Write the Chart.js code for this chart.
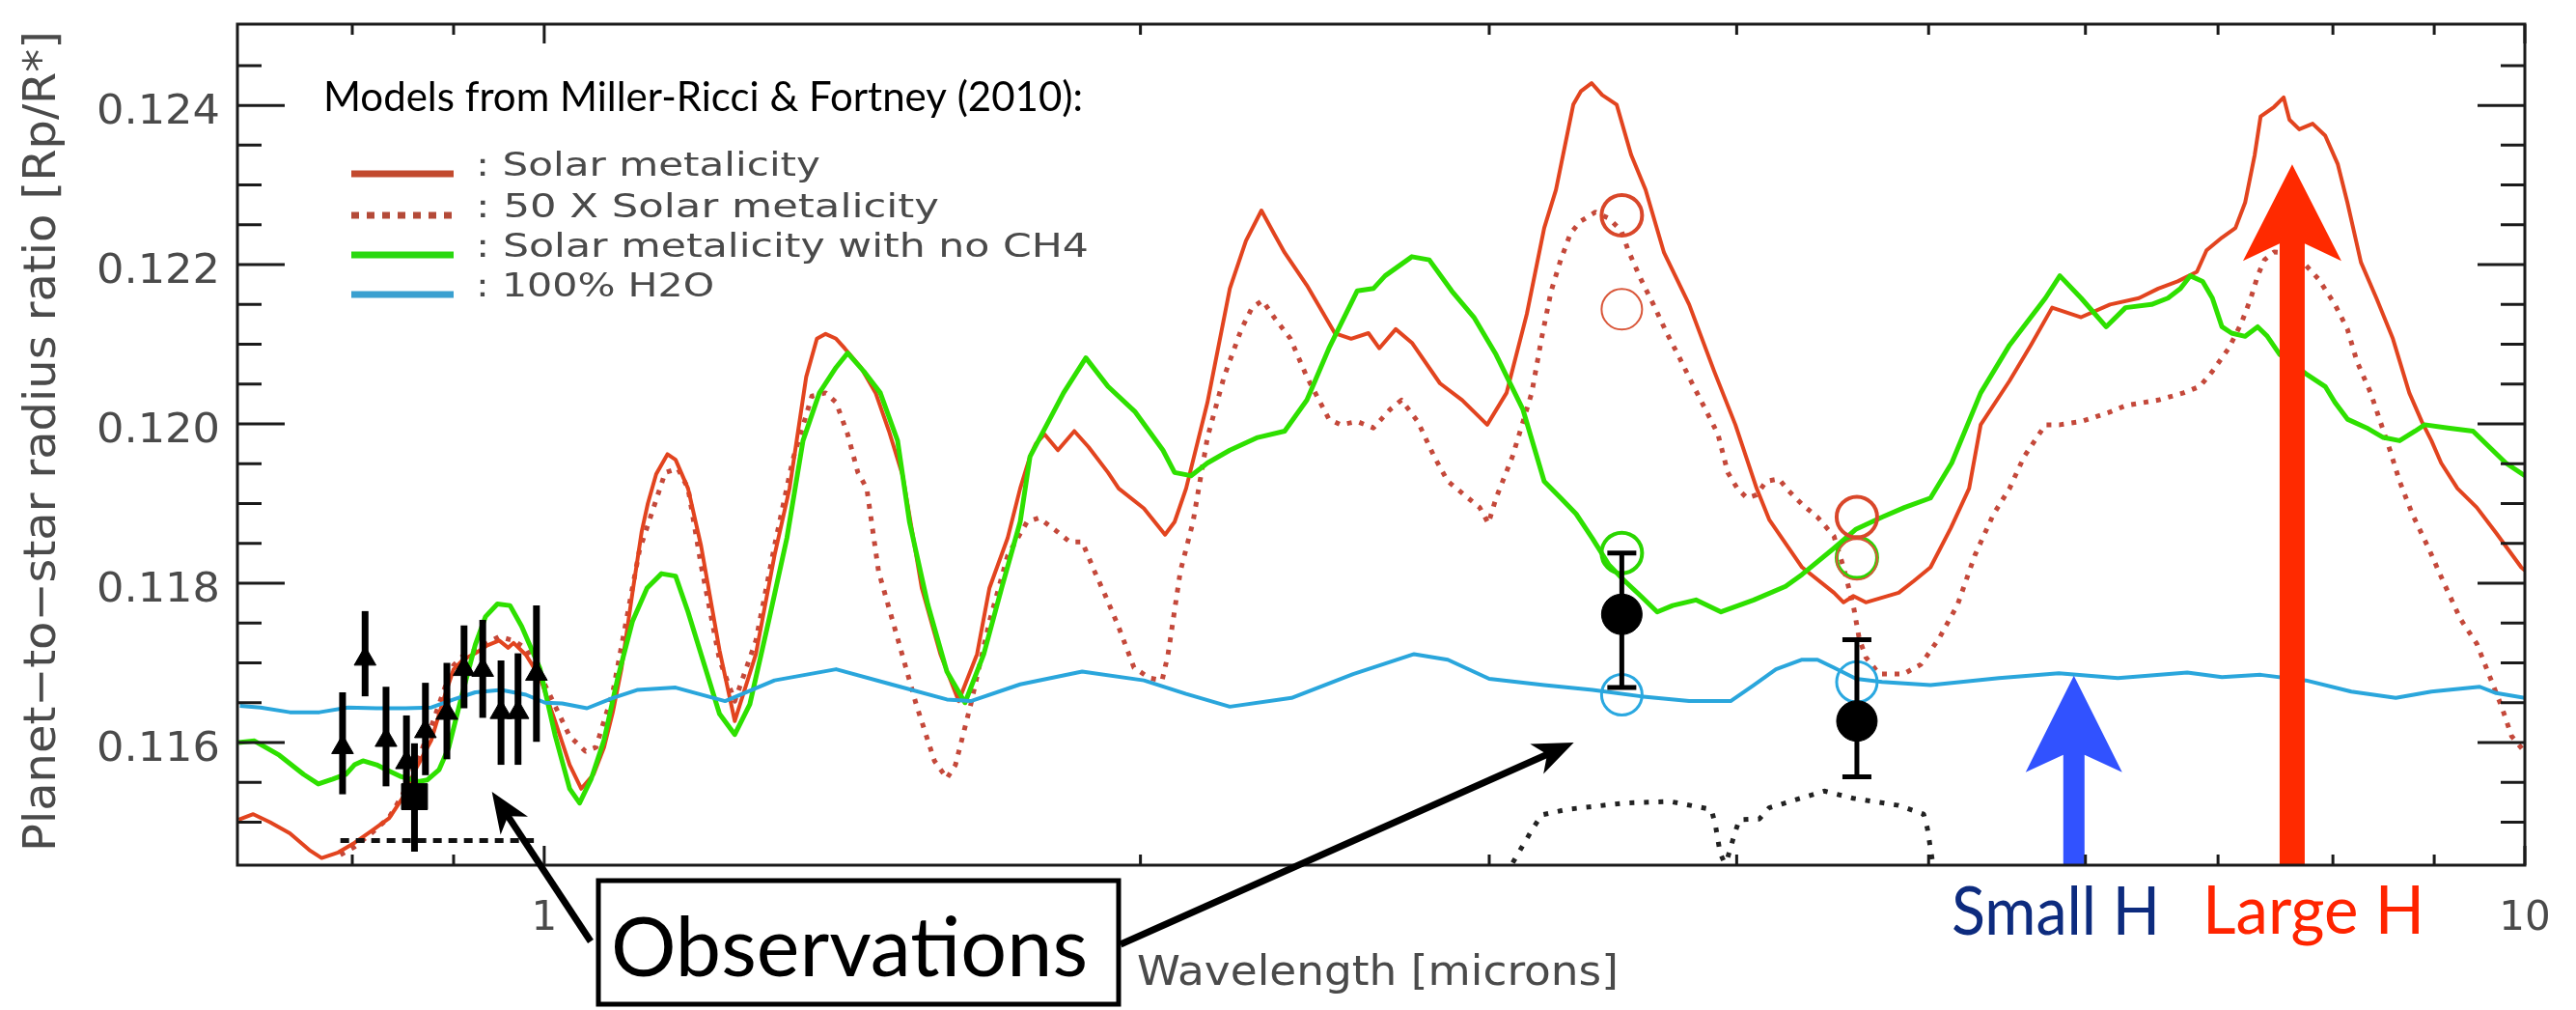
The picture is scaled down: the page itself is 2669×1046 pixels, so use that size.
<!DOCTYPE html>
<html>
<head>
<meta charset="utf-8">
<title>Transmission spectrum</title>
<script src="https://cdn.jsdelivr.net/npm/chart.js@4.4.1/dist/chart.umd.min.js"></script>
<style>
  html, body { margin: 0; padding: 0; background: #fff; }
  #wrap { width: 2669px; height: 1046px; }
</style>
</head>
<body>
<div id="wrap"><canvas id="spectrum" width="2669" height="1046"></canvas></div>
<script>
// Models (Miller-Ricci & Fortney 2010), wavelength in microns, Rp/R*
const solarWl = [0.701,0.713,0.727,0.744,0.761,0.772,0.787,0.802,0.818,0.835,0.848,0.861,0.877,0.890,0.900,0.910,0.923,0.936,0.949,0.959,0.965,0.979,0.995,1.013,1.030,1.044,1.059,1.072,1.083,1.094,1.108,1.120,1.128,1.139,1.154,1.165,1.182,1.200,1.226,1.248,1.279,1.307,1.330,1.356,1.373,1.387,1.404,1.418,1.445,1.470,1.493,1.517,1.551,1.585,1.619,1.654,1.678,1.714,1.739,1.759,1.771,1.789,1.817,1.852,1.883,1.926,1.950,2.008,2.058,2.081,2.109,2.162,2.219,2.261,2.302,2.336,2.365,2.427,2.507,2.555,2.607,2.640,2.691,2.742,2.833,2.907,2.993,3.061,3.134,3.198,3.242,3.308,3.338,3.379,3.421,3.479,3.538,3.598,3.676,3.785,3.897,3.994,4.094,4.154,4.316,4.479,4.529,4.581,4.648,4.829,4.916,5.011,5.130,5.241,5.312,5.493,5.631,5.772,5.970,6.174,6.385,6.530,6.679,6.830,6.907,7.032,7.143,7.224,7.305,7.355,7.471,7.555,7.606,7.693,7.814,7.929,8.046,8.136,8.265,8.415,8.578,8.743,8.871,8.971,9.073,9.247,9.457,9.672,9.958,10.0];
const solarRatio = [0.11503,0.11510,0.11500,0.11486,0.11465,0.11455,0.11462,0.11474,0.11489,0.11505,0.11530,0.11566,0.11603,0.11656,0.11692,0.11704,0.11712,0.11722,0.11728,0.11719,0.11725,0.11710,0.11682,0.11626,0.11572,0.11542,0.11560,0.11594,0.11638,0.11693,0.11788,0.11865,0.11900,0.11937,0.11962,0.11955,0.11919,0.11847,0.11716,0.11627,0.11711,0.11835,0.11919,0.12059,0.12107,0.12113,0.12107,0.12095,0.12071,0.12039,0.11991,0.11935,0.11794,0.11711,0.11652,0.11711,0.11794,0.11857,0.11919,0.11959,0.11975,0.11987,0.11967,0.11991,0.11971,0.11939,0.11919,0.11894,0.11861,0.11877,0.11919,0.12027,0.12170,0.12230,0.12268,0.12239,0.12215,0.12174,0.12114,0.12107,0.12114,0.12095,0.12119,0.12102,0.12051,0.12030,0.11999,0.12039,0.12138,0.12246,0.12294,0.12401,0.12418,0.12428,0.12413,0.12401,0.12338,0.12294,0.12215,0.12150,0.12066,0.11999,0.11919,0.11880,0.11820,0.11788,0.11776,0.11784,0.11776,0.11788,0.11803,0.11820,0.11869,0.11919,0.11999,0.12054,0.12099,0.12146,0.12134,0.12150,0.12158,0.12170,0.12179,0.12191,0.12218,0.12234,0.12246,0.12278,0.12338,0.12386,0.12398,0.12410,0.12382,0.12370,0.12377,0.12362,0.12326,0.12278,0.12203,0.12158,0.12107,0.12039,0.12003,0.11979,0.11951,0.11919,0.11895,0.11863,0.11820,0.11816];

const metal50Wl = [0.789,0.802,0.818,0.835,0.848,0.861,0.877,0.890,0.900,0.910,0.923,0.936,0.949,0.965,0.979,0.995,1.005,1.030,1.049,1.062,1.083,1.117,1.151,1.168,1.182,1.200,1.226,1.248,1.279,1.307,1.335,1.365,1.387,1.404,1.423,1.440,1.455,1.475,1.508,1.541,1.574,1.597,1.613,1.642,1.678,1.714,1.753,1.777,1.815,1.842,1.869,1.896,1.922,1.950,1.985,2.021,2.051,2.065,2.095,2.126,2.162,2.204,2.249,2.277,2.305,2.336,2.381,2.427,2.490,2.524,2.573,2.622,2.673,2.709,2.761,2.814,2.859,2.967,2.997,3.024,3.082,3.117,3.152,3.188,3.224,3.260,3.297,3.334,3.394,3.448,3.499,3.526,3.578,3.631,3.688,3.743,3.798,3.858,3.914,3.959,4.003,4.048,4.094,4.140,4.201,4.249,4.316,4.394,4.479,4.529,4.581,4.612,4.648,4.721,4.856,4.955,5.062,5.171,5.276,5.390,5.493,5.587,5.727,5.824,5.970,6.174,6.286,6.530,6.724,6.853,6.954,7.087,7.191,7.272,7.330,7.388,7.471,7.581,7.727,7.867,8.019,8.136,8.228,8.359,8.453,8.549,8.645,8.773,8.941,9.103,9.279,9.457,9.596,9.737,9.847,10.0];
const metal50Ratio = [0.11459,0.11469,0.11486,0.11506,0.11534,0.11572,0.11620,0.11666,0.11697,0.11709,0.11716,0.11725,0.11733,0.11728,0.11718,0.11686,0.11663,0.11608,0.11589,0.11594,0.11663,0.11841,0.11939,0.11944,0.11919,0.11823,0.11704,0.11652,0.11728,0.11847,0.11955,0.12035,0.12039,0.12027,0.11987,0.11939,0.11919,0.11815,0.11731,0.11648,0.11577,0.11555,0.11572,0.11648,0.11752,0.11835,0.11877,0.11882,0.11865,0.11852,0.11852,0.11815,0.11782,0.11745,0.11694,0.11681,0.11678,0.11710,0.11815,0.11877,0.11983,0.12059,0.12119,0.12146,0.12155,0.12134,0.12107,0.12059,0.12006,0.11999,0.12003,0.11995,0.12018,0.12030,0.12003,0.11959,0.11928,0.11895,0.11875,0.11907,0.11959,0.11999,0.12039,0.12107,0.12167,0.12206,0.12239,0.12254,0.12266,0.12258,0.12242,0.12218,0.12182,0.12150,0.12114,0.12083,0.12051,0.12018,0.11987,0.11939,0.11919,0.11907,0.11911,0.11928,0.11931,0.11916,0.11899,0.11883,0.11859,0.11820,0.11772,0.11731,0.11707,0.11686,0.11686,0.11698,0.11731,0.11773,0.11835,0.11886,0.11919,0.11959,0.11999,0.11999,0.12003,0.12015,0.12023,0.12030,0.12039,0.12047,0.12066,0.12095,0.12126,0.12158,0.12186,0.12206,0.12216,0.12215,0.12203,0.12182,0.12150,0.12119,0.12078,0.12039,0.12003,0.11967,0.11928,0.11887,0.11844,0.11800,0.11755,0.11724,0.11684,0.11644,0.11608,0.11588];

const noCh4Wl = [0.701,0.714,0.735,0.756,0.769,0.782,0.794,0.802,0.810,0.823,0.832,0.847,0.864,0.873,0.885,0.895,0.908,0.923,0.934,0.947,0.961,0.974,0.995,1.013,1.030,1.042,1.056,1.072,1.089,1.108,1.127,1.146,1.165,1.182,1.200,1.226,1.248,1.270,1.298,1.326,1.351,1.377,1.404,1.423,1.450,1.478,1.508,1.529,1.562,1.597,1.631,1.667,1.702,1.739,1.759,1.829,1.877,1.926,1.988,2.053,2.081,2.121,2.162,2.219,2.292,2.365,2.427,2.490,2.573,2.622,2.658,2.742,2.798,2.872,2.947,3.024,3.120,3.198,3.260,3.319,3.383,3.448,3.511,3.578,3.647,3.713,3.815,3.928,4.080,4.234,4.316,4.479,4.596,4.737,4.861,5.011,5.136,5.312,5.493,5.631,5.727,5.824,5.970,6.146,6.286,6.479,6.604,6.701,6.777,6.876,6.954,7.032,7.111,7.224,7.330,7.413,7.522,7.753,7.929,8.019,8.136,8.321,8.482,8.645,8.802,8.901,9.144,9.415,9.596,9.781,10.0];
const noCh4Ratio = [0.11600,0.11602,0.11584,0.11560,0.11548,0.11554,0.11560,0.11572,0.11577,0.11572,0.11566,0.11557,0.11551,0.11553,0.11566,0.11594,0.11656,0.11723,0.11758,0.11774,0.11772,0.11746,0.11693,0.11608,0.11542,0.11524,0.11554,0.11603,0.11680,0.11752,0.11794,0.11812,0.11809,0.11764,0.11711,0.11636,0.11610,0.11648,0.11752,0.11857,0.11979,0.12039,0.12071,0.12089,0.12066,0.12039,0.11979,0.11877,0.11773,0.11689,0.11650,0.11711,0.11794,0.11877,0.11959,0.12039,0.12083,0.12047,0.12015,0.11967,0.11939,0.11935,0.11951,0.11967,0.11983,0.11991,0.12030,0.12095,0.12167,0.12170,0.12186,0.12210,0.12206,0.12167,0.12134,0.12087,0.12018,0.11928,0.11907,0.11887,0.11856,0.11823,0.11803,0.11784,0.11764,0.11772,0.11779,0.11764,0.11779,0.11796,0.11811,0.11844,0.11868,0.11883,0.11895,0.11907,0.11951,0.12039,0.12099,0.12134,0.12158,0.12186,0.12158,0.12122,0.12146,0.12150,0.12158,0.12170,0.12186,0.12179,0.12158,0.12122,0.12114,0.12110,0.12122,0.12110,0.12087,0.12063,0.12047,0.12027,0.12006,0.11995,0.11983,0.11979,0.11991,0.11999,0.11995,0.11991,0.11971,0.11951,0.11935];

const waterWl = [0.702,0.719,0.744,0.770,0.796,0.823,0.851,0.877,0.900,0.923,0.951,0.979,1.001,1.021,1.051,1.083,1.114,1.165,1.234,1.307,1.404,1.497,1.597,1.642,1.739,1.869,2.008,2.109,2.219,2.384,2.561,2.749,2.859,3.000,3.198,3.383,3.578,3.785,3.972,4.080,4.187,4.316,4.394,4.479,4.596,4.737,5.011,5.426,5.817,6.230,6.754,7.032,7.355,7.753,8.173,8.607,8.971,9.489,9.672,10.0];
const waterRatio = [0.11646,0.11644,0.11638,0.11638,0.11644,0.11643,0.11643,0.11644,0.11654,0.11663,0.11666,0.11660,0.11650,0.11649,0.11643,0.11656,0.11666,0.11669,0.11652,0.11678,0.11692,0.11673,0.11654,0.11652,0.11673,0.11689,0.11678,0.11661,0.11645,0.11656,0.11686,0.11711,0.11704,0.11680,0.11672,0.11666,0.11658,0.11652,0.11652,0.11672,0.11692,0.11704,0.11704,0.11694,0.11680,0.11676,0.11672,0.11681,0.11687,0.11681,0.11688,0.11682,0.11685,0.11678,0.11664,0.11656,0.11664,0.11670,0.11662,0.11656];

// Ground-based observations (triangles) with errors
const obsWl    = [0.791,0.812,0.832,0.852,0.871,0.893,0.911,0.931,0.951,0.970,0.991];
const obsRatio = [0.11594,0.11705,0.11603,0.11575,0.11614,0.11637,0.11692,0.11691,0.11638,0.11638,0.11686];
const obsLow   = [0.11535,0.11658,0.11545,0.11536,0.11559,0.11579,0.11643,0.11631,0.11572,0.11572,0.11601];
const obsHigh  = [0.11663,0.11765,0.11670,0.11634,0.11675,0.11700,0.11747,0.11754,0.11703,0.11712,0.11772];

// Broad-band point (square) and its filter width
const sqWl = [0.860];
const sqRatio = [0.11532];
const sqLow = [0.11463];
const sqHigh = [0.11599];
const filterWl = [0.789, 0.988];
const filterRatio = [0.11477, 0.11477];

// Spitzer points and band-integrated model values
const irWl = [3.5, 4.6];
const irRatio = [0.11761, 0.11627];
const irLow = [0.11669, 0.11557];
const irHigh = [0.11838, 0.11729];
const bandSolar = [0.12262, 0.11883];
const band50 = [0.12144, 0.11830];
const bandNoCh4 = [0.11838, 0.11832];
const bandWater = [0.11660, 0.11676];

// Spitzer response curves (arbitrary scale, drawn at the bottom)
const resp36Wl = [3.083,3.156,3.188,3.283,3.511,3.701,3.884,3.902,3.924,3.959];
const resp36Ratio = [0.11449,0.11492,0.11509,0.11516,0.11524,0.11526,0.11516,0.11497,0.11461,0.11440];
const resp45Wl = [3.959,3.990,4.012,4.107,4.154,4.429,4.580,4.828,4.971,4.993,5.030];
const resp45Ratio = [0.11456,0.11485,0.11503,0.11504,0.11518,0.11539,0.11530,0.11521,0.11510,0.11492,0.11440];

// Axis ticks
const yMajorTicks = [0.116, 0.118, 0.120, 0.122, 0.124];
const yTickLabels = ['0.116', '0.118', '0.120', '0.122', '0.124'];
const yMinorTicks = [0.1150,0.1155,0.1165,0.1170,0.1175,0.1185,0.1190,0.1195,0.1205,0.1210,0.1215,0.1225,0.1230,0.1235,0.1245];
const xMajorTicks = [1, 10];
const xTickLabels = ['1', '10'];
const xMinorTicks = [0.8, 0.9, 2, 3, 4, 5, 6, 7, 8, 9];

const legendTitle = 'Models from Miller-Ricci & Fortney (2010):';
const legendLabels = [': Solar metalicity', ': 50 X Solar metalicity', ': Solar metalicity with no CH4', ': 100% H2O'];

// Annotation arrows (data coordinates of the tips)
const smallHArrow = { x: 5.92, tip: 0.11684 };
const largeHArrow = { x: 7.63, tip: 0.12326 };
const obsArrowTips = [{ x: 0.941, y: 0.11538 }, { x: 3.31, y: 0.11600 }];

const RED = '#e2441f', RED_DOT = '#c4483a', GREEN = '#2ee000', BLUE = '#2aa6dc';
const TEXT_GREY = '#4a4a4a';

function pts(wl, vals) {
    return wl.map((w, i) => ({ x: w, y: vals[i] }));
}

function curve(wl, vals, color, width, dash, order) {
    return {
        data: pts(wl, vals),
        showLine: true,
        borderColor: color,
        borderWidth: width,
        borderDash: dash,
        borderCapStyle: 'butt',
        borderJoinStyle: 'round',
        pointRadius: 0,
        tension: 0,
        fill: false,
        clip: 0,
        order: order
    };
}

function markers(wl, vals, style, radius, fill, stroke, width, order) {
    return {
        data: pts(wl, vals),
        showLine: false,
        pointStyle: style,
        pointRadius: radius,
        backgroundColor: fill,
        borderColor: stroke,
        borderWidth: width,
        order: order
    };
}

function fitText(ctx, str, x, y, w, font, color) {
    ctx.save();
    ctx.font = font;
    ctx.fillStyle = color;
    ctx.textAlign = 'left';
    ctx.textBaseline = 'alphabetic';
    const k = w / ctx.measureText(str).width;
    ctx.translate(x, y);
    ctx.scale(k, 1);
    ctx.fillText(str, 0, 0);
    ctx.restore();
}

function lineArrow(ctx, x0, y0, x1, y1, len, half) {
    const d = Math.hypot(x1 - x0, y1 - y0);
    const ux = (x1 - x0) / d, uy = (y1 - y0) / d, nx = -uy, ny = ux;
    ctx.beginPath();
    ctx.moveTo(x0, y0);
    ctx.lineTo(x1 - ux * len * 0.7, y1 - uy * len * 0.7);
    ctx.stroke();
    ctx.beginPath();
    ctx.moveTo(x1, y1);
    ctx.lineTo(x1 - ux * len + nx * half, y1 - uy * len + ny * half);
    ctx.lineTo(x1 - ux * len * 0.72, y1 - uy * len * 0.72);
    ctx.lineTo(x1 - ux * len - nx * half, y1 - uy * len - ny * half);
    ctx.closePath();
    ctx.fill();
}

function bigArrow(ctx, cx, tipY, baseY, shaft, head, color) {
    ctx.fillStyle = color;
    ctx.beginPath();
    ctx.moveTo(cx, tipY);
    ctx.lineTo(cx + head, tipY + 100);
    ctx.lineTo(cx + shaft, tipY + 82);
    ctx.lineTo(cx + shaft, baseY);
    ctx.lineTo(cx - shaft, baseY);
    ctx.lineTo(cx - shaft, tipY + 82);
    ctx.lineTo(cx - head, tipY + 100);
    ctx.closePath();
    ctx.fill();
}

const decor = {
    id: 'decor',
    afterDatasetsDraw(chart) {
        const { ctx, chartArea: a, scales: { x, y } } = chart;
        const px = v => x.getPixelForValue(v);
        const py = v => y.getPixelForValue(v);
        ctx.save();

        // error bars
        ctx.strokeStyle = '#000';
        ctx.lineCap = 'butt';
        ctx.lineWidth = 7;
        obsWl.forEach((w, i) => {
            ctx.beginPath();
            ctx.moveTo(px(w), py(obsLow[i]));
            ctx.lineTo(px(w), py(obsHigh[i]));
            ctx.stroke();
        });
        sqWl.forEach((w, i) => {
            ctx.beginPath();
            ctx.moveTo(px(w), py(sqLow[i]));
            ctx.lineTo(px(w), py(sqHigh[i]));
            ctx.stroke();
        });
        ctx.lineWidth = 5;
        irWl.forEach((w, i) => {
            const X = px(w);
            ctx.beginPath();
            ctx.moveTo(X, py(irLow[i]));
            ctx.lineTo(X, py(irHigh[i]));
            ctx.moveTo(X - 15, py(irLow[i]));
            ctx.lineTo(X + 15, py(irLow[i]));
            ctx.moveTo(X - 15, py(irHigh[i]));
            ctx.lineTo(X + 15, py(irHigh[i]));
            ctx.stroke();
        });

        // scale height arrows
        bigArrow(ctx, px(smallHArrow.x), py(smallHArrow.tip), a.bottom, 11, 50, '#3152ff');
        bigArrow(ctx, px(largeHArrow.x), py(largeHArrow.tip), a.bottom, 13, 51, '#ff2a00');

        // frame
        ctx.strokeStyle = '#1a1a1a';
        ctx.lineWidth = 3;
        ctx.strokeRect(a.left, a.top, a.right - a.left, a.bottom - a.top);

        // y ticks (left and right, inward)
        ctx.beginPath();
        yMajorTicks.forEach(v => {
            const Y = py(v);
            ctx.moveTo(a.left, Y); ctx.lineTo(a.left + 49, Y);
            ctx.moveTo(a.right, Y); ctx.lineTo(a.right - 49, Y);
        });
        yMinorTicks.forEach(v => {
            const Y = py(v);
            ctx.moveTo(a.left, Y); ctx.lineTo(a.left + 25, Y);
            ctx.moveTo(a.right, Y); ctx.lineTo(a.right - 25, Y);
        });
        // x ticks (bottom and top, inward)
        xMajorTicks.forEach(v => {
            const X = px(v);
            ctx.moveTo(X, a.bottom); ctx.lineTo(X, a.bottom - 20);
            ctx.moveTo(X, a.top); ctx.lineTo(X, a.top + 20);
        });
        xMinorTicks.forEach(v => {
            const X = px(v);
            ctx.moveTo(X, a.bottom); ctx.lineTo(X, a.bottom - 11);
            ctx.moveTo(X, a.top); ctx.lineTo(X, a.top + 11);
        });
        ctx.stroke();

        // tick labels
        const tickFont = '42px "DejaVu Sans"';
        yMajorTicks.forEach((v, i) => {
            fitText(ctx, yTickLabels[i], 100, py(v) + 19, 128, tickFont, TEXT_GREY);
        });
        xMajorTicks.forEach((v, i) => {
            ctx.font = tickFont;
            ctx.fillStyle = TEXT_GREY;
            ctx.textAlign = 'center';
            ctx.textBaseline = 'alphabetic';
            ctx.fillText(xTickLabels[i], px(v), a.bottom + 67);
        });

        // axis titles
        fitText(ctx, 'Wavelength [microns]', 1178, 1020, 499, '42px "DejaVu Sans"', TEXT_GREY);
        ctx.save();
        ctx.translate(57, 457);
        ctx.rotate(-Math.PI / 2);
        fitText(ctx, 'Planet\u2212to\u2212star radius ratio [Rp/R*]', -425, 0, 850, '46px "DejaVu Sans"', TEXT_GREY);
        ctx.restore();

        // legend
        fitText(ctx, legendTitle, 335, 115, 787, '42px Lato', '#000');
        const legendColors = ['#c24a2e', '#b44a38', '#2ad810', '#3aa0d0'];
        const legendDash = [[], [8, 8], [], []];
        const legendY = [180, 223, 264, 305];
        const legendW = [357, 480, 635, 247];
        legendLabels.forEach((t, i) => {
            ctx.save();
            ctx.strokeStyle = legendColors[i];
            ctx.lineWidth = 7;
            ctx.setLineDash(legendDash[i]);
            ctx.beginPath();
            ctx.moveTo(364, legendY[i]);
            ctx.lineTo(470, legendY[i]);
            ctx.stroke();
            ctx.restore();
            fitText(ctx, t, 493, legendY[i] + 2, legendW[i], '33px "DejaVu Sans"', TEXT_GREY);
        });

        // "Observations" box and its arrows
        ctx.fillStyle = '#fff';
        ctx.fillRect(620, 912, 539, 128);
        ctx.strokeStyle = '#000';
        ctx.lineWidth = 5;
        ctx.strokeRect(620, 912, 539, 128);
        fitText(ctx, 'Observations', 633, 1011, 494, '86px Lato', '#000');
        ctx.fillStyle = '#000';
        ctx.lineWidth = 7;
        lineArrow(ctx, 612, 975, px(obsArrowTips[0].x), py(obsArrowTips[0].y), 42, 17);
        lineArrow(ctx, 1161, 978, px(obsArrowTips[1].x), py(obsArrowTips[1].y), 42, 17);

        // scale height labels
        fitText(ctx, 'Small H', 2022, 968, 216, '70px Lato', '#0d2b7e');
        fitText(ctx, 'Large H', 2282, 967, 230, '70px Lato', '#ff2400');

        ctx.restore();
    }
};

const datasets = [
    markers(obsWl, obsRatio, 'triangle', 13, '#000', '#000', 1, 0),
    markers(sqWl, sqRatio, 'rect', 19, '#000', '#000', 1, 0),
    markers(irWl, irRatio, 'circle', 21, '#000', '#000', 1, 0),
    markers(irWl, bandSolar, 'circle', 21, 'rgba(0,0,0,0)', '#d9472a', 4, 1),
    markers(irWl, band50, 'circle', 21, 'rgba(0,0,0,0)', '#d9573a', 2, 1),
    markers(irWl, bandNoCh4, 'circle', 21, 'rgba(0,0,0,0)', '#2bd600', 4, 1),
    markers(irWl, bandWater, 'circle', 21, 'rgba(0,0,0,0)', '#2aa8e0', 3, 1),
    curve(filterWl, filterRatio, '#111', 5, [9, 7], 2),
    curve(waterWl, waterRatio, BLUE, 4, [], 3),
    curve(noCh4Wl, noCh4Ratio, GREEN, 5, [], 4),
    curve(solarWl, solarRatio, RED, 4, [], 5),
    curve(metal50Wl, metal50Ratio, RED_DOT, 5, [5, 8], 6),
    curve(resp36Wl, resp36Ratio, '#222', 5, [5, 10], 7),
    curve(resp45Wl, resp45Ratio, '#222', 5, [5, 10], 7)
];

new Chart(document.getElementById('spectrum'), {
    type: 'scatter',
    data: { datasets },
    options: {
        responsive: false,
        devicePixelRatio: 1,
        animation: false,
        events: [],
        layout: { padding: { left: 246, right: 53, top: 13, bottom: 150 } },
        plugins: { legend: { display: false }, tooltip: { enabled: false } },
        scales: {
            x: { type: 'logarithmic', min: 0.7, max: 10, display: false },
            y: { type: 'linear', min: 0.11446, max: 0.12502, display: false }
        }
    },
    plugins: [decor]
});
</script>
</body>
</html>
